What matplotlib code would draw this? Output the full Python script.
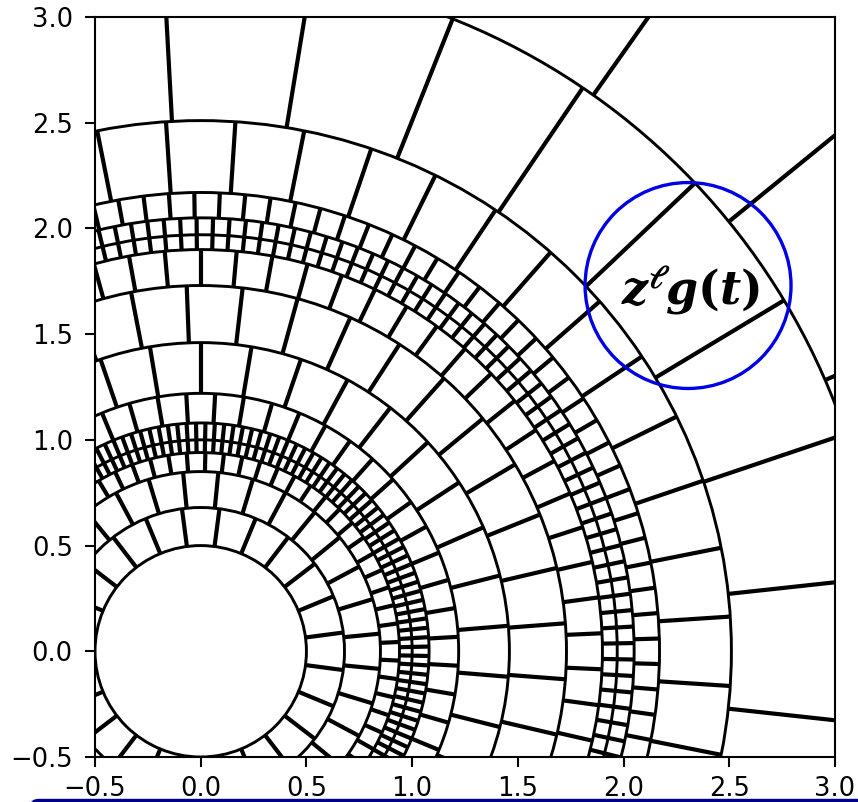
#polar wavelet style tiling, rings with their own number of spokes

import numpy as np
import matplotlib.pyplot as plt
from matplotlib.patches import Circle, FancyBboxPatch

#ring edges and number of spokes in each ring (last ring runs past the axes)
radii = [0.5, 0.68, 0.85, 0.94, 1.0, 1.08, 1.22, 1.46, 1.73, 1.90, 1.97, 2.05, 2.17, 2.51, 3.22, 4.5]
spokes = [24, 32, 67, 152, 152, 56, 38, 41, 70, 165, 165, 113, 48, 29, 23]

ticks = [-0.5, 0.0, 0.5, 1.0, 1.5, 2.0, 2.5, 3.0]
tick_labels = ["\u22120.5", "0.0", "0.5", "1.0", "1.5", "2.0", "2.5", "3.0"]

blue_center = (2.305, 1.73)
blue_radius = 0.487
label = r"$\boldsymbol{z}^{\boldsymbol{\ell}}\boldsymbol{g(t)}$"

W, H = 858, 802

fig = plt.figure(figsize=(W/100, H/100), dpi=100)
ax = fig.add_axes([95/W, 1-757/H, 740/W, 740/H])

for r in radii[:-1]:
    ax.add_patch(Circle((0, 0), r, fill=False, ec="black", lw=2.1))

for i in range(len(spokes)):
    n = spokes[i]
    t = (np.arange(n) + 0.5)*2*np.pi/n
    for a in t:
        ax.plot([radii[i]*np.cos(a), radii[i+1]*np.cos(a)],
                [radii[i]*np.sin(a), radii[i+1]*np.sin(a)],
                color="black", lw=3.0, solid_capstyle="butt")

ax.add_patch(Circle(blue_center, blue_radius, fill=False, ec="#0000e6", lw=2.4, zorder=5))
ax.text(blue_center[0]+0.01, blue_center[1]-0.02, label, fontsize=33, ha="center", va="center",
        math_fontfamily="dejavuserif", zorder=6)

ax.set_xlim(-0.5, 3.0)
ax.set_ylim(-0.5, 3.0)
ax.set_xticks(ticks)
ax.set_yticks(ticks)
ax.set_xticklabels(tick_labels)
ax.set_yticklabels(tick_labels)
ax.tick_params(labelsize=18.5, length=7.5, width=1.5)
ax.tick_params(axis="x", pad=6.5)
ax.tick_params(axis="y", pad=8.5)
for s in ax.spines.values():
    s.set_linewidth(1.5)

#dark slide bar cutting off the bottom of the picture
fig.add_artist(FancyBboxPatch((30/W, -0.02), 1.2, 0.02+3.2/H, boxstyle="round,pad=0,rounding_size=0.01",
                              transform=fig.transFigure, fc="#00008b", ec="none"))

fig.savefig("out.png", dpi=100)
